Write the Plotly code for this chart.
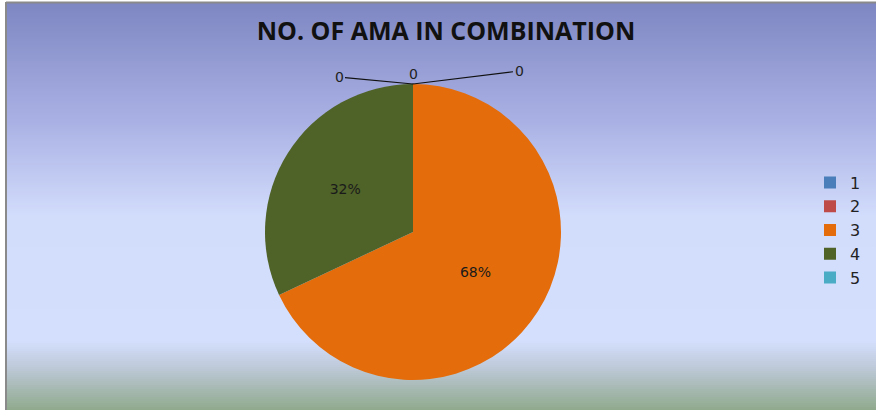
import plotly.graph_objects as go

# chart data
categories = ["1", "2", "3", "4", "5"]
values = [0, 0, 68, 32, 0]
slice_colors = ["#4a7ebb", "#be4b48", "#e46c0a", "#4f6228", "#4bacc6"]

W, H = 876, 410


def mix(c1, c2, t):
    a = [int(c1[i:i + 2], 16) for i in (1, 3, 5)]
    b = [int(c2[i:i + 2], 16) for i in (1, 3, 5)]
    return "rgb(%d,%d,%d)" % tuple(round(a[k] + (b[k] - a[k]) * t) for k in range(3))


# background gradient stops (pixel row from top, colour)
stops = [(3, "#7f87c3"), (120, "#a9b1e4"), (215, "#d2dcfb"), (340, "#d4dffd"),
         (365, "#bfcadb"), (410, "#8fa98b")]

shapes = []
y = 3
while y < H:
    for (y0, c0), (y1, c1) in zip(stops, stops[1:]):
        if y0 <= y <= y1:
            col = mix(c0, c1, (y - y0) / (y1 - y0))
            break
    shapes.append(dict(type="rect", xref="paper", yref="paper", layer="below",
                       x0=7 / W, x1=1, y0=1 - (y + 3) / H, y1=1 - y / H,
                       fillcolor=col, line=dict(width=0)))
    y += 2
# grey frame on top / left
shapes.append(dict(type="line", xref="paper", yref="paper", layer="below",
                   x0=6 / W, x1=6 / W, y0=0, y1=1 - 2 / H,
                   line=dict(color="#8a8a8a", width=2)))
shapes.append(dict(type="line", xref="paper", yref="paper", layer="below",
                   x0=6 / W, x1=1, y0=1 - 2.5 / H, y1=1 - 2.5 / H,
                   line=dict(color="#8a8a8a", width=2)))

cx, cy, r = 413, 232, 148

fig = go.Figure(go.Pie(
    labels=categories,
    values=values,
    marker=dict(colors=slice_colors, line=dict(width=0)),
    sort=False,
    direction="clockwise",
    rotation=0,
    textinfo="percent",
    texttemplate="%{percent:.0%}",
    textposition="inside",
    insidetextorientation="horizontal",
    textfont=dict(family="DejaVu Sans", size=14, color="#1a1a1a"),
    domain=dict(x=[(cx - r) / W, (cx + r) / W], y=[1 - (cy + r) / H, 1 - (cy - r) / H]),
    hoverinfo="label+value+percent",
))

# zero-value slice labels with leader lines
top_y = 1 - (cy - r) / H
for dx, dy in [(-74, -7), (0, -10), (106, -13)]:
    fig.add_annotation(x=cx / W, y=top_y, xref="paper", yref="paper",
                       text="0", showarrow=True, arrowhead=0, arrowwidth=1.2,
                       arrowcolor="#111111", ax=dx, ay=dy, standoff=0,
                       font=dict(family="DejaVu Sans", size=14, color="#222222"))

fig.update_layout(
    width=W, height=H,
    margin=dict(l=0, r=0, t=0, b=0),
    paper_bgcolor="white",
    plot_bgcolor="rgba(0,0,0,0)",
    shapes=shapes,
    title=dict(text="<b>NO. OF AMA IN COMBINATION</b>", x=446 / W, xanchor="center",
               y=1 - 31 / H, yanchor="middle",
               font=dict(family="Open Sans", size=25, color="#111111")),
    legend=dict(x=810 / W, xanchor="left", y=1 - 230 / H, yanchor="middle",
                bgcolor="rgba(0,0,0,0)",
                font=dict(family="DejaVu Sans", size=16, color="#222222")),
)

# drop the browser's default body margin so the figure sits at the page corner
fig.write_html("out.html", config=dict(displayModeBar=False),
               post_script="document.body.style.margin='0';")
